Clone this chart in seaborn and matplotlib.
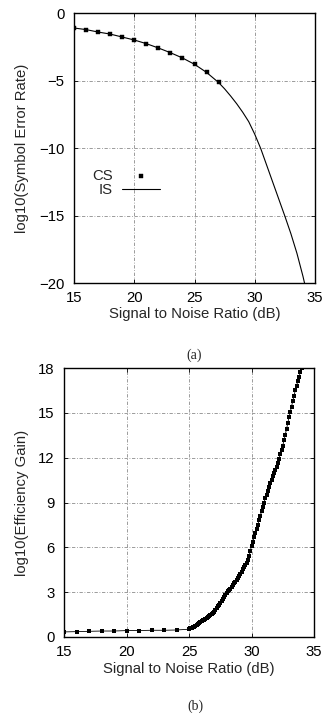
import numpy as np
import pandas as pd
import matplotlib
matplotlib.use("Agg")
import matplotlib.pyplot as plt
import seaborn as sns

# (a) symbol error rate, CS = conventional simulation points, IS = importance sampling curve
cs_snr = [15, 16, 17, 18, 19, 20, 21, 22, 23, 24, 25, 26, 27]
cs_ser = [-1.11, -1.23, -1.41, -1.56, -1.78, -2.00, -2.27, -2.59, -2.94, -3.33, -3.80, -4.37, -5.11]

is_snr = [15, 16, 17, 18, 19, 20, 21, 22, 23, 24, 25, 26, 27, 27.5, 28, 28.5, 29, 29.5,
          30, 30.5, 31, 31.5, 32, 32.5, 33, 33.5, 34, 34.13]
is_ser = [-1.11, -1.23, -1.41, -1.56, -1.78, -2.00, -2.27, -2.59, -2.94, -3.33, -3.80, -4.40,
          -5.15, -5.62, -6.15, -6.72, -7.35, -8.05, -8.98, -10.05, -11.3, -12.55, -13.8,
          -15.05, -16.35, -17.8, -19.5, -20.0]

# (b) efficiency gain
gain_snr = [15, 16, 17, 18, 19, 20, 21, 22, 23, 24,
            25.0, 25.1, 25.2, 25.3, 25.4, 25.5, 25.6, 25.7, 25.8, 25.9,
            26.0, 26.1, 26.2, 26.3, 26.4, 26.5, 26.6, 26.7, 26.8, 26.9,
            27.0, 27.1, 27.2, 27.3, 27.4, 27.5, 27.6, 27.7, 27.8, 27.9,
            28.0, 28.1, 28.2, 28.3, 28.4, 28.5, 28.6, 28.7, 28.8, 28.9,
            29.0, 29.1, 29.2, 29.3, 29.4, 29.5, 29.6, 29.7, 29.8, 29.9,
            30.0, 30.1, 30.2, 30.3, 30.4, 30.5, 30.6, 30.7, 30.8, 30.9,
            31.0, 31.1, 31.2, 31.3, 31.4, 31.5, 31.6, 31.7, 31.8, 31.9,
            32.0, 32.1, 32.2, 32.3, 32.4, 32.5, 32.6, 32.7, 32.8, 32.9,
            33.0, 33.1, 33.2, 33.3, 33.4, 33.5, 33.6, 33.7, 33.8, 33.9, 34.0]
gain = [0.34, 0.36, 0.38, 0.40, 0.40, 0.43, 0.43, 0.45, 0.45, 0.47,
        0.52, 0.57, 0.62, 0.66, 0.70, 0.75, 0.81, 0.87, 0.93, 0.99,
        1.05, 1.11, 1.17, 1.23, 1.29, 1.35, 1.41, 1.48, 1.55, 1.62,
        1.70, 1.81, 1.93, 2.05, 2.17, 2.30, 2.43, 2.56, 2.69, 2.82,
        2.95, 3.05, 3.14, 3.23, 3.34, 3.45, 3.58, 3.71, 3.84, 3.97,
        4.10, 4.24, 4.38, 4.52, 4.66, 4.80, 4.97, 5.15, 5.40, 5.75,
        6.10, 6.38, 6.66, 6.94, 7.22, 7.50, 7.80, 8.10, 8.40, 8.70,
        9.00, 9.27, 9.53, 9.78, 10.04, 10.30, 10.53, 10.75, 10.97, 11.18,
        11.40, 11.67, 11.94, 12.22, 12.50, 12.80, 13.16, 13.53, 13.91, 14.30,
        14.70, 15.06, 15.42, 15.78, 16.14, 16.50, 16.80, 17.10, 17.40, 17.70, 18.00]

sns.set_style("ticks")
plt.rcParams['font.family'] = ['Liberation Sans', 'DejaVu Sans']
plt.rcParams['axes.linewidth'] = 1.0

fig = plt.figure(figsize=(3.23, 7.13), dpi=100)
ax1 = fig.add_axes([74/323, 1 - 283/713, 241/323, 270/713])
ax2 = fig.add_axes([64/323, 1 - 637/713, 250/323, 269/713])

grid_kw = dict(color="0.55", linestyle=(0, (4, 2, 1, 2)), linewidth=0.6)
fs = 10.7

# panel (a)
sns.lineplot(x=is_snr, y=is_ser, ax=ax1, color="black", linewidth=0.8, label="IS")
sns.scatterplot(x=cs_snr, y=cs_ser, ax=ax1, color="black", marker="s", s=6,
                edgecolor="black", linewidth=0.3, label="CS", zorder=3)
ax1.set_xlim(15, 35)
ax1.set_ylim(-20, 0)
ax1.set_xticks([15, 20, 25, 30, 35])
ax1.set_yticks([0, -5, -10, -15, -20])
for v in [20, 25, 30]:
    ax1.axvline(v, **grid_kw, zorder=0)
for v in [-5, -10, -15]:
    ax1.axhline(v, **grid_kw, zorder=0)
ax1.set_xlabel("Signal to Noise Ratio (dB)", fontsize=fs)
ax1.set_ylabel("log10(Symbol Error Rate)", fontsize=fs)
ax1.xaxis.set_label_coords(0.5, (283 - 314) / 270)
ax1.yaxis.set_label_coords((22 - 74) / 241, 0.5)
h, l = ax1.get_legend_handles_labels()
ax1.legend(h[::-1], l[::-1], markerfirst=False, frameon=False, loc="upper left",
           bbox_to_anchor=(0.043, 0.449), fontsize=fs, handlelength=2.56,
           handletextpad=0.67, labelspacing=0.0, borderpad=0)

# panel (b)
sns.lineplot(x=gain_snr, y=gain, ax=ax2, color="black", linewidth=0.6,
             marker="s", markersize=2.8, markeredgewidth=0)
ax2.set_xlim(15, 35)
ax2.set_ylim(0, 18)
ax2.set_xticks([15, 20, 25, 30, 35])
ax2.set_yticks([0, 3, 6, 9, 12, 15, 18])
for v in [20, 25, 30]:
    ax2.axvline(v, **grid_kw, zorder=0)
for v in [3, 6, 9, 12, 15]:
    ax2.axhline(v, **grid_kw, zorder=0)
ax2.set_xlabel("Signal to Noise Ratio (dB)", fontsize=fs)
ax2.set_ylabel("log10(Efficiency Gain)", fontsize=fs)
ax2.xaxis.set_label_coords(0.5, (637 - 669) / 269)
ax2.yaxis.set_label_coords((22 - 64) / 250, 0.5)

for ax in (ax1, ax2):
    ax.xaxis.label.set_va("center")
    ax.yaxis.label.set_va("center")
    ax.tick_params(direction="in", top=True, right=True, length=3, width=0.6,
                   labelsize=fs, colors="black")
    ax.tick_params(axis="x", pad=6)
    ax.tick_params(axis="y", pad=7)
    for s in ax.spines.values():
        s.set_color("black")

fig.text(194/323, 1 - 355/713, "(a)", ha="center", va="center", fontsize=10,
         family="Liberation Serif")
fig.text(195/323, 1 - 706/713, "(b)", ha="center", va="center", fontsize=10,
         family="Liberation Serif")

fig.savefig("out.png", dpi=100)
